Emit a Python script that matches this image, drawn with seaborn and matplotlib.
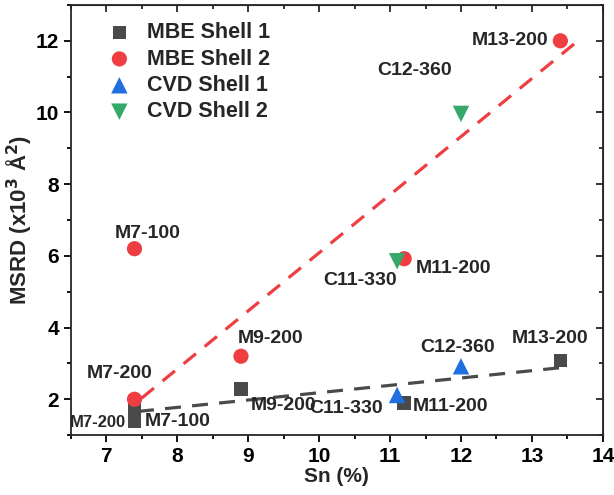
import numpy as np
import pandas as pd
import matplotlib
matplotlib.use("Agg")
import matplotlib.pyplot as plt
import seaborn as sns
from matplotlib.ticker import MultipleLocator

# ---- data ----
mbe1_x = [7.4, 7.4, 8.9, 11.2, 13.4]
mbe1_y = [1.75, 1.40, 2.28, 1.90, 3.08]
mbe1_lbl = ["M7-200", "M7-100", "M9-200", "M11-200", "M13-200"]

mbe2_x = [7.4, 7.4, 8.9, 11.2, 13.4]
mbe2_y = [6.2, 2.0, 3.2, 5.92, 12.0]
mbe2_lbl = ["M7-100", "M7-200", "M9-200", "M11-200", "M13-200"]

cvd1_x = [11.1, 12.0]
cvd1_y = [2.12, 2.92]
cvd1_lbl = ["C11-330", "C12-360"]

cvd2_x = [11.1, 12.0]
cvd2_y = [5.85, 9.96]
cvd2_lbl = ["C11-330", "C12-360"]

series = ["MBE Shell 1", "MBE Shell 2", "CVD Shell 1", "CVD Shell 2"]

# guide lines (drawn trend lines, endpoints)
trend1_x = [7.45, 13.4]
trend1_y = [1.66, 2.88]
trend2_x = [7.5, 13.63]
trend2_y = [2.03, 11.97]

# ---- styling ----
colors = {"MBE Shell 1": "#4a4a4a", "MBE Shell 2": "#ef3e42",
          "CVD Shell 1": "#1f6fe0", "CVD Shell 2": "#36a96a"}
markers = {"MBE Shell 1": "s", "MBE Shell 2": "o",
           "CVD Shell 1": "^", "CVD Shell 2": "v"}
sizes = {"MBE Shell 1": 95, "MBE Shell 2": 120,
         "CVD Shell 1": 140, "CVD Shell 2": 140}

sns.set_style("ticks")
plt.rcParams["font.family"] = ["Liberation Sans", "DejaVu Sans"]
plt.rcParams["font.weight"] = "bold"

df = pd.concat([
    pd.DataFrame({"x": mbe1_x, "y": mbe1_y, "s": series[0], "lbl": mbe1_lbl}),
    pd.DataFrame({"x": mbe2_x, "y": mbe2_y, "s": series[1], "lbl": mbe2_lbl}),
    pd.DataFrame({"x": cvd1_x, "y": cvd1_y, "s": series[2], "lbl": cvd1_lbl}),
    pd.DataFrame({"x": cvd2_x, "y": cvd2_y, "s": series[3], "lbl": cvd2_lbl}),
], ignore_index=True)

fig = plt.figure(figsize=(6.14, 4.95), dpi=100)
ax = fig.add_axes([0.115, 0.121, 0.867, 0.869])

sns.lineplot(x=trend1_x, y=trend1_y, ax=ax, color="#4a4a4a", lw=2.3,
             linestyle=(0, (5, 3.5)), zorder=1)
sns.lineplot(x=trend2_x, y=trend2_y, ax=ax, color="#ef3e42", lw=2.3,
             linestyle=(0, (5, 3.5)), zorder=1)

for s in series:
    d = df[df.s == s]
    sns.scatterplot(data=d, x="x", y="y", ax=ax, color=colors[s],
                    marker=markers[s], s=sizes[s], edgecolor="none",
                    label=s, zorder=3)

# point labels: (series, label) -> (dx px, dy px up, ha, fontsize)
offsets = {
    ("MBE Shell 2", "M13-200"): (-12, 0, "right", 14),
    ("CVD Shell 2", "C12-360"): (-46, 43, "center", 14),
    ("MBE Shell 2", "M7-100"): (13, 15, "center", 14),
    ("CVD Shell 2", "C11-330"): (-37, -19, "center", 14),
    ("MBE Shell 2", "M11-200"): (12, -10, "left", 14),
    ("MBE Shell 2", "M9-200"): (30, 18, "center", 14),
    ("MBE Shell 2", "M7-200"): (-15, 26, "center", 14),
    ("MBE Shell 1", "M9-200"): (10, -16, "left", 14),
    ("MBE Shell 1", "M7-200"): (-8, -14, "right", 12),
    ("MBE Shell 1", "M7-100"): (10, -1, "left", 14),
    ("CVD Shell 1", "C12-360"): (-3, 19, "center", 14),
    ("MBE Shell 1", "M13-200"): (-10, 22, "center", 14),
    ("CVD Shell 1", "C11-330"): (-14, -14, "right", 14),
    ("MBE Shell 1", "M11-200"): (9, -4, "left", 14),
}
for _, r in df.iterrows():
    dx, dy, ha, fs = offsets[(r.s, r.lbl)]
    ax.annotate(r.lbl, (r.x, r.y), xytext=(dx, dy), textcoords="offset pixels",
                ha=ha, va="center", fontsize=fs, fontweight="bold", zorder=4)

ax.set_xlim(6.5, 14)
ax.set_ylim(1, 13)
ax.xaxis.set_major_locator(MultipleLocator(1))
ax.xaxis.set_minor_locator(MultipleLocator(0.5))
ax.yaxis.set_major_locator(MultipleLocator(2))
ax.yaxis.set_minor_locator(MultipleLocator(1))
ax.set_xlabel("Sn (%)", fontsize=15, fontweight="bold", labelpad=1)
ax.set_ylabel("MSRD (x10$^3$ Å$^2$)", fontsize=16, fontweight="bold", labelpad=1)

for sp in ax.spines.values():
    sp.set_visible(True)
    sp.set_linewidth(1.3)
ax.tick_params(which="both", direction="out", width=1.3, labelsize=15,
               top=False, right=False, colors="black")
ax.tick_params(which="major", length=5)
ax.tick_params(which="minor", length=3)
for lab in ax.get_xticklabels() + ax.get_yticklabels():
    lab.set_fontweight("bold")

# mirrored inward ticks on top/right
axt = ax.secondary_xaxis("top")
axt.xaxis.set_major_locator(MultipleLocator(1))
axt.xaxis.set_minor_locator(MultipleLocator(0.5))
axt.tick_params(which="both", direction="in", width=1.3, labeltop=False)
axt.tick_params(which="major", length=5)
axt.tick_params(which="minor", length=3)
axr = ax.secondary_yaxis("right")
axr.yaxis.set_major_locator(MultipleLocator(2))
axr.yaxis.set_minor_locator(MultipleLocator(1))
axr.tick_params(which="both", direction="in", width=1.3, labelright=False)
axr.tick_params(which="major", length=5)
axr.tick_params(which="minor", length=3)

leg = ax.legend(loc="upper left", bbox_to_anchor=(0.035, 0.99), frameon=False,
                fontsize=15.5, handletextpad=0.5, handlelength=1.6,
                labelspacing=0.25, borderaxespad=0.2)
for t in leg.get_texts():
    t.set_fontweight("bold")

fig.savefig("out.png", dpi=100)
